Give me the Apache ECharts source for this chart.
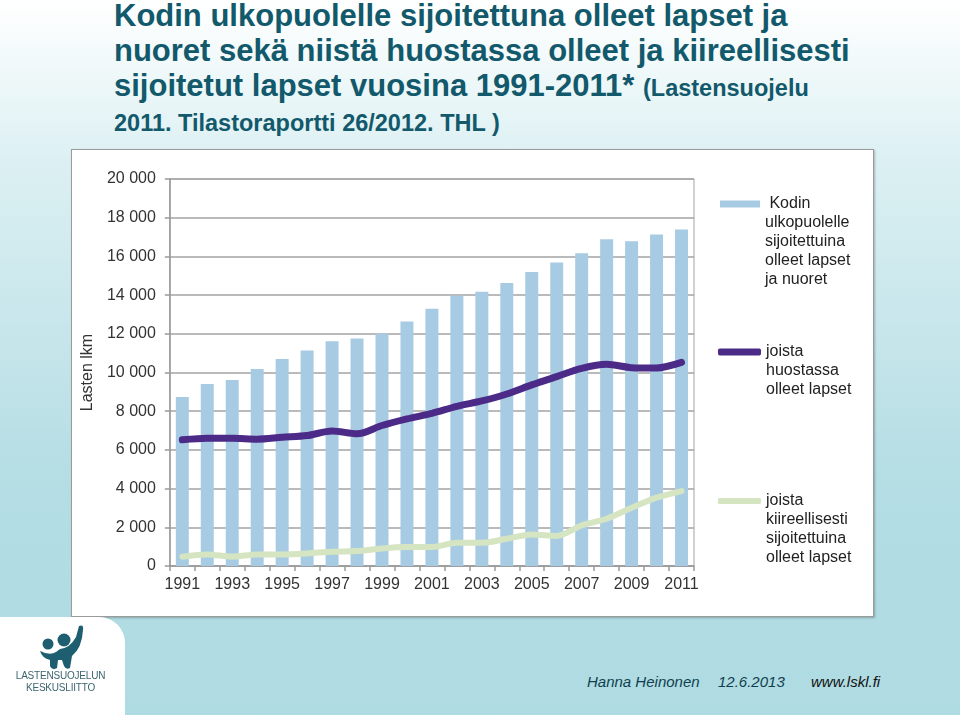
<!DOCTYPE html>
<html>
<head>
<meta charset="utf-8">
<script src="https://cdn.jsdelivr.net/npm/echarts@6/dist/echarts.min.js"></script>
<style>
  html, body {
    margin: 0;
    width: 960px;
    height: 715px;
    overflow: hidden;
    font-family: "Liberation Sans", Arial, sans-serif;
  }
  body {
    position: relative;
    background: linear-gradient(180deg, #ffffff 0px, #dcf0f3 160px, #b4dde4 480px, #afdbe2 715px);
  }
  .title {
    position: absolute;
    left: 114px;
    font-weight: bold;
    color: #12596b;
    white-space: nowrap;
  }
  .big { top: -2px; font-size: 31px; line-height: 35px; }
  .title .small { font-size: 23.5px; }
  .line4 { top: 110px; font-size: 23.5px; line-height: 26px; }
  #box {
    position: absolute;
    left: 72px;
    top: 150px;
    width: 802px;
    height: 467px;
    background: #fff;
  }
  #frame {
    position: absolute;
    left: 71px;
    top: 149px;
    width: 801px;
    height: 466px;
    border: 1.5px solid #9b9b9b;
    box-shadow: 1px 1px 2px rgba(0,0,0,0.25);
    pointer-events: none;
  }
  #chart { width: 802px; height: 467px; }
  .logo {
    position: absolute;
    left: 0;
    top: 617px;
    width: 125px;
    height: 98px;
    background: #fff;
    border-top-right-radius: 26px;
  }
  .logo .name {
    position: absolute;
    left: 0;
    width: 121px;
    text-align: center;
    font-size: 10px;
    line-height: 12px;
    color: #3b6470;
    letter-spacing: -0.2px;
  }
  .footer {
    position: absolute;
    top: 673px;
    font-size: 15px;
    font-style: italic;
    color: #0f3f4e;
    white-space: nowrap;
  }
</style>
</head>
<body>
<div class="title big">Kodin ulkopuolelle sijoitettuna olleet lapset ja<br>nuoret sekä niistä huostassa olleet ja kiireellisesti<br>sijoitetut lapset vuosina 1991-2011* <span class="small">(Lastensuojelu</span></div>
<div class="title line4">2011. Tilastoraportti 26/2012. THL )</div>

<div id="box"><div id="chart"></div></div>
<div id="frame"></div>

<div class="logo">
  <svg width="125" height="60" style="position:absolute;left:0;top:0">
    <circle cx="48" cy="27" r="5.5" fill="#1d5f70"/>
    <circle cx="64" cy="23" r="6.5" fill="#1d5f70"/>
    <path d="M40 34 Q50 39 56 35 L60 32 Q70 31 76 20 L79 9 Q84 7 83 13 Q82 31 72 39 L70 51 Q66 53 64 49 L62 43 L58 43 L57 51 Q52 54 50 49 L50 43 Q42 41 40 34 Z" fill="#1d5f70"/>
  </svg>
  <div class="name" style="top:53px">LASTENSUOJELUN</div>
  <div class="name" style="top:65px">KESKUSLIITTO</div>
</div>

<div class="footer" style="left:587px">Hanna Heinonen</div>
<div class="footer" style="left:718px">12.6.2013</div>
<div class="footer" style="left:811px;color:#111">www.lskl.fi</div>

<script>
// vuodet
var years = ['1991', '1992', '1993', '1994', '1995', '1996', '1997', '1998', '1999', '2000',
  '2001', '2002', '2003', '2004', '2005', '2006', '2007', '2008', '2009', '2010', '2011'];

// Kodin ulkopuolelle sijoitetut (pylväät)
var placed = [8740, 9410, 9610, 10180, 10700, 11140, 11610, 11760, 12020, 12640,
  13290, 13960, 14170, 14620, 15200, 15680, 16160, 16890, 16780, 17130, 17390];

// joista huostassa
var custody = [6520, 6600, 6600, 6550, 6650, 6740, 6980, 6830, 7260, 7600,
  7890, 8250, 8530, 8890, 9360, 9790, 10210, 10420, 10250, 10230, 10520];

// joista kiireellisesti sijoitetut
var emergency = [480, 600, 480, 600, 600, 650, 740, 770, 910, 980,
  980, 1200, 1200, 1410, 1630, 1550, 2100, 2440, 3010, 3530, 3870];

var names = [
  ' Kodin\nulkopuolelle\nsijoitettuina\nolleet lapset\nja nuoret',
  'joista\nhuostassa\nolleet lapset',
  'joista\nkiireellisesti\nsijoitettuina\nolleet lapset'
];

var font = '"Liberation Sans", Arial, sans-serif';
var LH = 19;

// legend icon sits on the first text line: pad the text with empty lines above
function legendFor(name, iconCenter, left, icon, w, h) {
  var lines = name.split('\n').length;
  var total = (2 * lines - 1) * LH;
  return {
    data: [name],
    left: left,
    top: iconCenter - total / 2,
    padding: 0,
    icon: icon,
    itemWidth: w,
    itemHeight: h,
    selectedMode: false,
    formatter: function (n) {
      return new Array(lines).join('\n') + n;
    },
    textStyle: {
      fontFamily: font,
      fontSize: 16,
      color: '#222',
      lineHeight: LH
    }
  };
}

var myChart = echarts.init(document.getElementById('chart'));
var option = {
  animation: false,
  grid: {
    left: 94,
    top: 29,
    right: 180,
    bottom: 51,
    show: true,
    borderColor: '#a3a3a3',
    borderWidth: 1
  },
  legend: [
    legendFor(names[0], 54, 648, 'rect', 40, 7),
    legendFor(names[1], 202, 646, 'roundRect', 43, 7),
    legendFor(names[2], 351, 646, 'roundRect', 43, 6)
  ],
  xAxis: {
    type: 'category',
    data: years,
    boundaryGap: true,
    axisLine: { lineStyle: { color: '#9a9a9a', width: 1.5 } },
    axisTick: { show: true, interval: 0, length: 5, lineStyle: { color: '#9a9a9a', width: 1.5 } },
    axisLabel: {
      interval: 1,
      margin: 11,
      fontFamily: font,
      fontSize: 16,
      color: '#333'
    }
  },
  yAxis: {
    type: 'value',
    min: 0,
    max: 20000,
    interval: 2000,
    name: 'Lasten lkm',
    nameLocation: 'middle',
    nameGap: 70,
    nameTextStyle: { fontFamily: font, fontSize: 16, color: '#333' },
    axisLine: { show: true, lineStyle: { color: '#9a9a9a', width: 1.5 } },
    axisTick: { show: true, length: 5, lineStyle: { color: '#9a9a9a', width: 1.5 } },
    splitLine: { lineStyle: { color: '#a3a3a3', width: 1.5 } },
    axisLabel: {
      margin: 14,
      fontFamily: font,
      fontSize: 16,
      color: '#333',
      formatter: function (v) {
        return String(v).replace(/\B(?=(\d{3})+(?!\d))/g, ' ');
      }
    }
  },
  series: [
    {
      name: names[0],
      type: 'bar',
      data: placed,
      barWidth: '52%',
      itemStyle: { color: '#a8cbe4' }
    },
    {
      name: names[1],
      type: 'line',
      data: custody,
      smooth: 0.3,
      showSymbol: false,
      symbol: 'none',
      itemStyle: { color: '#4b2a88' },
      lineStyle: { color: '#4b2a88', width: 7, cap: 'round', join: 'round' }
    },
    {
      name: names[2],
      type: 'line',
      data: emergency,
      smooth: 0.3,
      showSymbol: false,
      symbol: 'none',
      itemStyle: { color: '#d5e4c1' },
      lineStyle: { color: '#d5e4c1', width: 6, cap: 'round', join: 'round' }
    }
  ]
};
option && myChart.setOption(option);
</script>
</body>
</html>
